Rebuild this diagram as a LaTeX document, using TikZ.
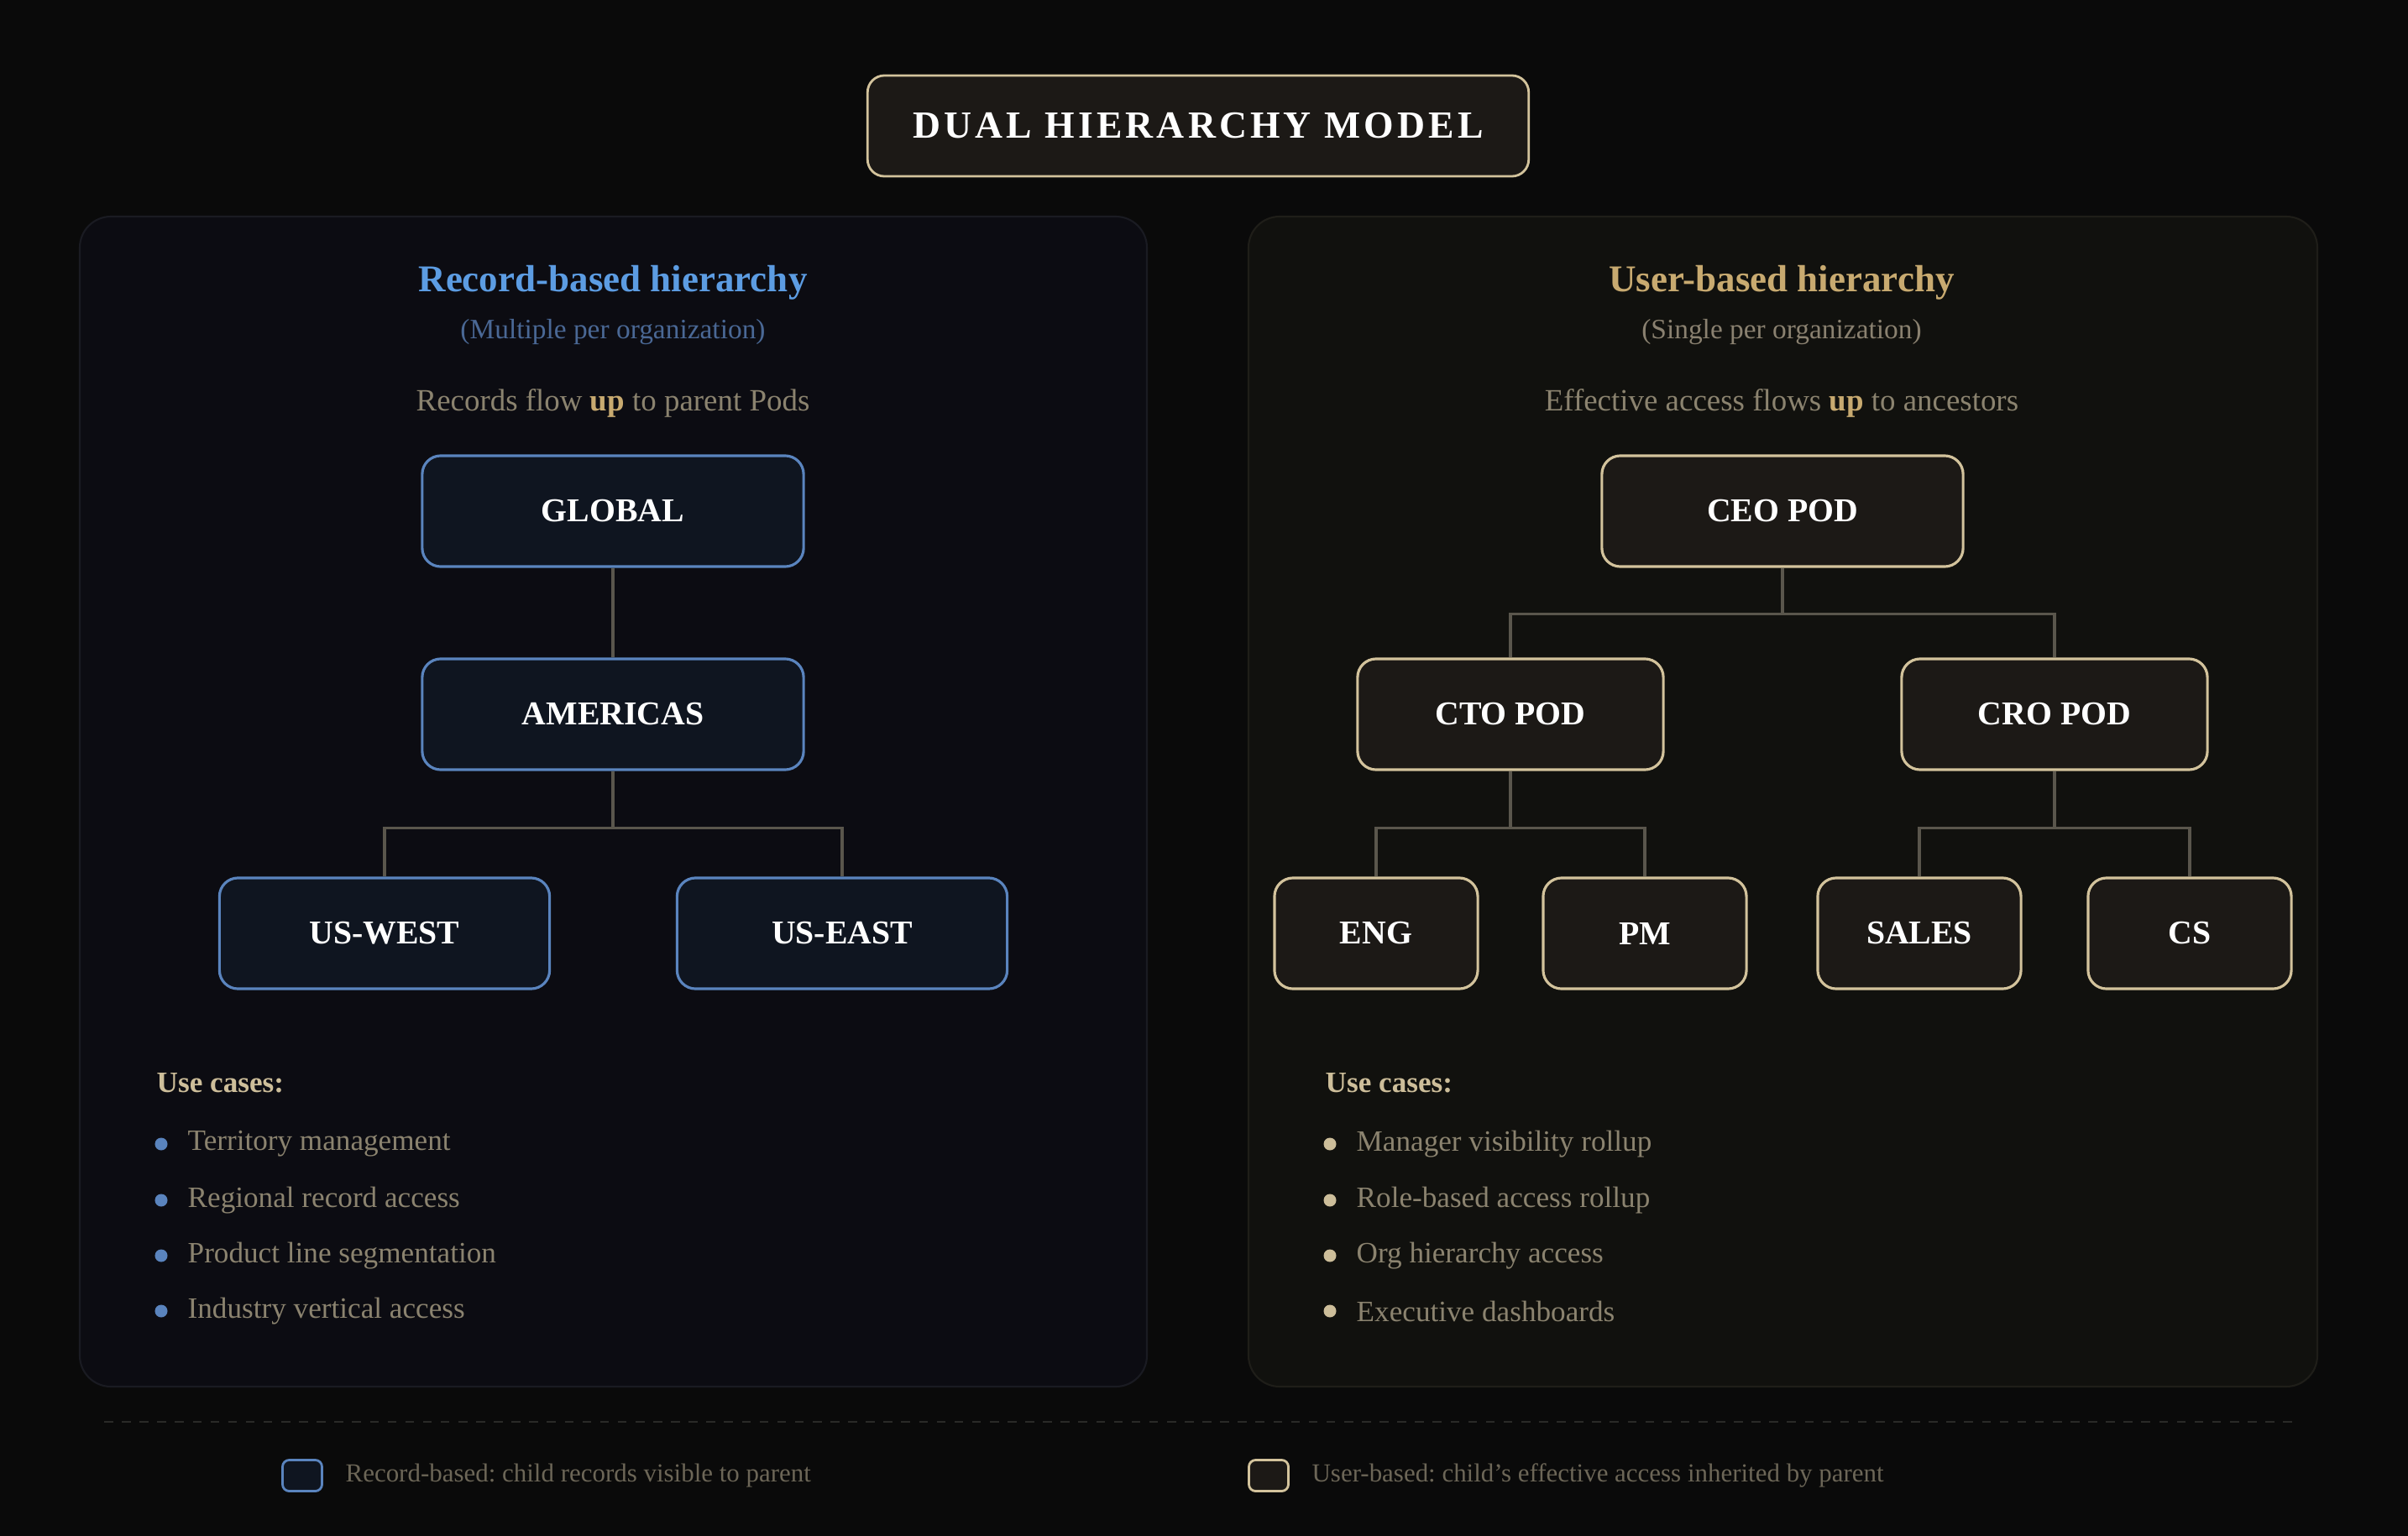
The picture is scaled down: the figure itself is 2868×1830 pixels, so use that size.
\documentclass[tikz,border=0pt]{standalone}
\usepackage{fontspec}
\setmainfont{Liberation Serif}
\usepackage{tikz}
\usetikzlibrary{positioning}
\usepackage{xcolor}
\definecolor{pagebg}{HTML}{0A0A0A}
\definecolor{recpanel}{HTML}{0C0C12}
\definecolor{recedge}{HTML}{1A1B22}
\definecolor{usrpanel}{HTML}{11110E}
\definecolor{usredge}{HTML}{1F1E19}
\definecolor{recfill}{HTML}{0F1520}
\definecolor{recline}{HTML}{5A84BE}
\definecolor{usrfill}{HTML}{1C1916}
\definecolor{usrline}{HTML}{D3C39C}
\definecolor{recblue}{HTML}{5C9CE2}
\definecolor{recsub}{HTML}{4A6895}
\definecolor{gold}{HTML}{C8AA70}
\definecolor{usrsub}{HTML}{8A8170}
\definecolor{sand}{HTML}{CDBE9A}
\definecolor{muted}{HTML}{8B836F}
\definecolor{faint}{HTML}{6C6657}
\definecolor{linkgray}{HTML}{5A564C}
\definecolor{rule}{HTML}{2A2A28}
\frenchspacing

\tikzset{
  recpod/.style={draw=recline, line width=0.9pt, fill=recfill, rounded corners=0.22cm,
    minimum height=1.32cm, text=white, font=\fontsize{11.3}{13}\selectfont\bfseries},
  usrpod/.style={draw=usrline, line width=0.9pt, fill=usrfill, rounded corners=0.22cm,
    minimum height=1.32cm, text=white, font=\fontsize{11.3}{13}\selectfont\bfseries},
  link/.style={draw=linkgray, line width=1pt},
  headtext/.style={font=\fontsize{12.8}{14}\selectfont\bfseries},
  subtext/.style={font=\fontsize{9.5}{11}\selectfont},
  flowtext/.style={text=muted, font=\fontsize{10.5}{12}\selectfont},
  usehead/.style={anchor=west, inner sep=0pt, text=sand, font=\fontsize{10}{12}\selectfont\bfseries},
  usetext/.style={anchor=west, inner sep=0pt, text=muted, font=\fontsize{10}{12}\selectfont},
  recdot/.style={circle, fill=recline, inner sep=0pt, minimum size=0.15cm},
  usrdot/.style={circle, fill=sand, inner sep=0pt, minimum size=0.15cm},
  legtext/.style={anchor=west, inner sep=0pt, text=faint, font=\fontsize{8.8}{10}\selectfont},
}

\begin{document}
\begin{tikzpicture}[x=0.01cm, y=-0.01cm]
  % page and bounding box
  \fill[pagebg] (0,0) rectangle (2868,1830);
  \useasboundingbox (0,0) rectangle (2868,1830);

  % title
  \node[draw=usrline, line width=0.8pt, fill=usrfill, rounded corners=0.2cm,
    minimum width=7.87cm, minimum height=1.2cm, text=white,
    font=\fontsize{13}{15}\selectfont\bfseries\addfontfeatures{LetterSpace=9}]
    (title) at (1427,150) {DUAL HIERARCHY MODEL};

  % panels
  \draw[draw=recedge, line width=0.6pt, fill=recpanel, rounded corners=0.37cm] (95,258) rectangle (1366,1652);
  \draw[draw=usredge, line width=0.6pt, fill=usrpanel, rounded corners=0.37cm] (1487,258) rectangle (2760,1652);

  % Record-based hierarchy
  \node[headtext, text=recblue] (rechead) at (730,337) {Record-based hierarchy};
  \node[subtext, text=recsub] (recsub) at (730,396) {(Multiple per organization)};
  \node[flowtext] (recflow) at (730,480) {Records flow \textcolor{gold}{\bfseries up} to parent Pods};

  \node[recpod, minimum width=4.54cm] (global) at (730,609) {GLOBAL};
  \node[recpod, minimum width=4.54cm] (americas) at (730,851) {AMERICAS};
  \node[recpod, minimum width=3.93cm] (uswest) at (458,1112) {US-WEST};
  \node[recpod, minimum width=3.93cm] (useast) at (1003,1112) {US-EAST};

  \draw[link] (global.south) -- (americas.north);
  \draw[link] (americas.south) -- ++(0,68) -| (uswest.north);
  \draw[link] (americas.south) -- ++(0,68) -| (useast.north);

  \node[usehead] (recuse) at (186,1290) {Use cases:};
  \node[recdot] (rd1) at (192,1363) {};
  \node[usetext] (ru1) at (223,1363) {Territory management};
  \node[recdot] (rd2) at (192,1430) {};
  \node[usetext] (ru2) at (223,1430) {Regional record access};
  \node[recdot] (rd3) at (192,1496) {};
  \node[usetext] (ru3) at (223,1496) {Product line segmentation};
  \node[recdot] (rd4) at (192,1562) {};
  \node[usetext] (ru4) at (223,1562) {Industry vertical access};

  % User-based hierarchy
  \node[headtext, text=gold] (usrhead) at (2122,337) {User-based hierarchy};
  \node[subtext, text=usrsub] (usrsub) at (2122,396) {(Single per organization)};
  \node[flowtext] (usrflow) at (2122,480) {Effective access flows \textcolor{gold}{\bfseries up} to ancestors};

  \node[usrpod, minimum width=4.30cm] (ceo) at (2123,609) {CEO POD};
  \node[usrpod, minimum width=3.64cm] (cto) at (1799,851) {CTO POD};
  \node[usrpod, minimum width=3.64cm] (cro) at (2447,851) {CRO POD};
  \node[usrpod, minimum width=2.42cm] (eng) at (1639,1112) {ENG};
  \node[usrpod, minimum width=2.42cm] (pm) at (1959,1112) {PM};
  \node[usrpod, minimum width=2.42cm] (sales) at (2286,1112) {SALES};
  \node[usrpod, minimum width=2.42cm] (cs) at (2608,1112) {CS};

  \draw[link] (ceo.south) -- ++(0,55) -| (cto.north);
  \draw[link] (ceo.south) -- ++(0,55) -| (cro.north);
  \draw[link] (cto.south) -- ++(0,68) -| (eng.north);
  \draw[link] (cto.south) -- ++(0,68) -| (pm.north);
  \draw[link] (cro.south) -- ++(0,68) -| (sales.north);
  \draw[link] (cro.south) -- ++(0,68) -| (cs.north);

  \node[usehead] (usruse) at (1578,1290) {Use cases:};
  \node[usrdot] (ud1) at (1584,1363) {};
  \node[usetext] (uu1) at (1615,1363) {Manager visibility rollup};
  \node[usrdot] (ud2) at (1584,1430) {};
  \node[usetext] (uu2) at (1615,1430) {Role-based access rollup};
  \node[usrdot] (ud3) at (1584,1496) {};
  \node[usetext] (uu3) at (1615,1496) {Org hierarchy access};
  \node[usrdot] (ud4) at (1584,1562) {};
  \node[usetext] (uu4) at (1615,1562) {Executive dashboards};

  % legend
  \draw[rule, line width=0.6pt, dash pattern=on 3pt off 3pt] (124,1694) -- (2731,1694);
  \node[draw=recline, line width=0.8pt, fill=recfill, rounded corners=0.08cm,
    minimum width=0.47cm, minimum height=0.37cm, inner sep=0pt] (reckey) at (360,1758) {};
  \node[legtext, right=0.26cm of reckey] (reclegend) {Record-based: child records visible to parent};
  \node[draw=usrline, line width=0.8pt, fill=usrfill, rounded corners=0.08cm,
    minimum width=0.47cm, minimum height=0.37cm, inner sep=0pt] (usrkey) at (1511,1758) {};
  \node[legtext, right=0.26cm of usrkey] (usrlegend) {User-based: child's effective access inherited by parent};
\end{tikzpicture}
\end{document}
